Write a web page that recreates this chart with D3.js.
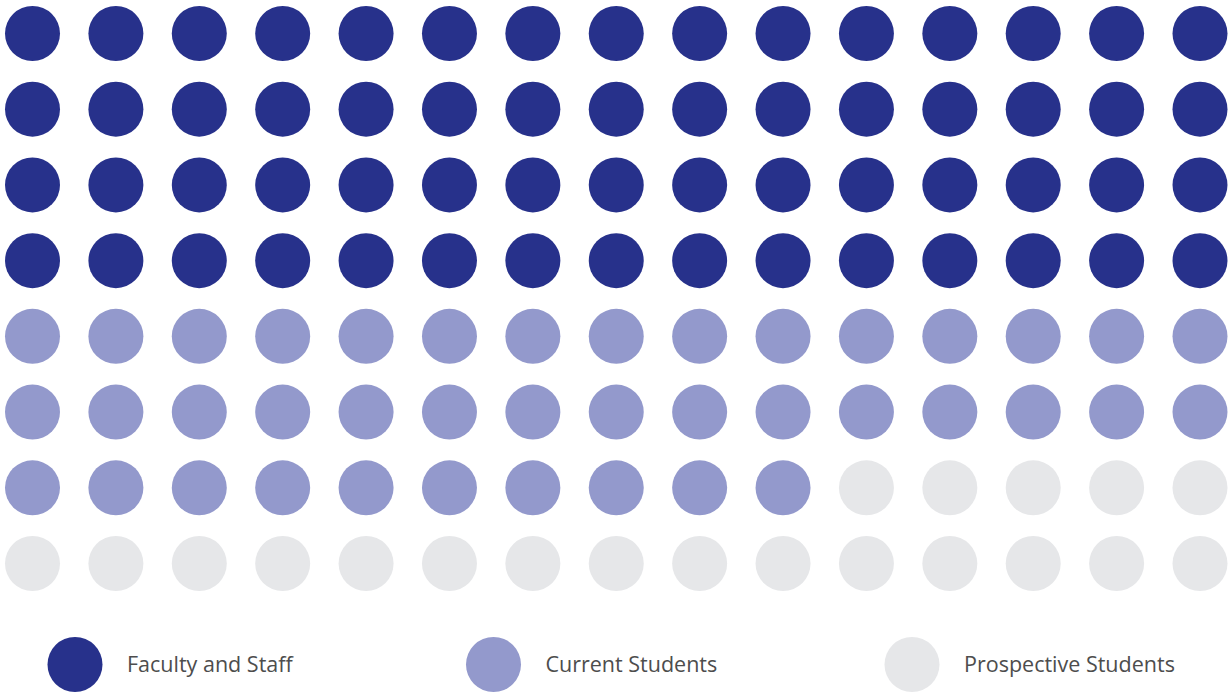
<!DOCTYPE html>
<html>
<head>
<meta charset="utf-8">
<script src="https://cdn.jsdelivr.net/npm/d3@7"></script>
<style>
  body { margin: 0; background: #fff; }
  svg { display: block; }
</style>
</head>
<body>
<div id="chart"></div>
<script>
// data
const CATEGORIES = ["Faculty and Staff", "Current Students", "Prospective Students"];
const COUNTS = [60, 40, 20];
const COLORS = ["#27318b", "#9399cc", "#e6e7e9"];
const N_COLS = 15;
const N_ROWS = 8;

const SVG_WIDTH = 1229;
const SVG_HEIGHT = 692;
const R = 27.5;

const svg = d3.select("#chart")
  .append("svg")
  .attr("width", SVG_WIDTH)
  .attr("height", SVG_HEIGHT);

const xScale = d3.scalePoint().domain(d3.range(N_COLS)).range([32.5, 1200]);
const yScale = d3.scalePoint().domain(d3.range(N_ROWS)).range([33.5, 563.5]);
const color = d3.scaleOrdinal().domain(CATEGORIES).range(COLORS);

// one cell per unit, filled row by row
const cells = [];
CATEGORIES.forEach((c, ci) => {
  for (let k = 0; k < COUNTS[ci]; k++) cells.push(c);
});

svg.append("g")
  .attr("class", "dots")
  .selectAll("circle")
  .data(cells)
  .enter()
  .append("circle")
  .attr("cx", (d, i) => xScale(i % N_COLS))
  .attr("cy", (d, i) => yScale(Math.floor(i / N_COLS)))
  .attr("r", R)
  .attr("fill", d => color(d));

// legend
const legendX = d3.scalePoint().domain(CATEGORIES).range([75, 912]);
const legend = svg.append("g")
  .attr("class", "legend")
  .selectAll("g")
  .data(CATEGORIES)
  .enter()
  .append("g")
  .attr("transform", d => `translate(${legendX(d)}, 664.5)`);

legend.append("circle")
  .attr("r", R)
  .attr("fill", d => color(d));

legend.append("text")
  .attr("x", 52)
  .attr("y", 7.5)
  .style("font-family", "'Open Sans', Arial, sans-serif")
  .style("font-size", "21.5px")
  .style("fill", "#4d4d4d")
  .text(d => d);
</script>
</body>
</html>
